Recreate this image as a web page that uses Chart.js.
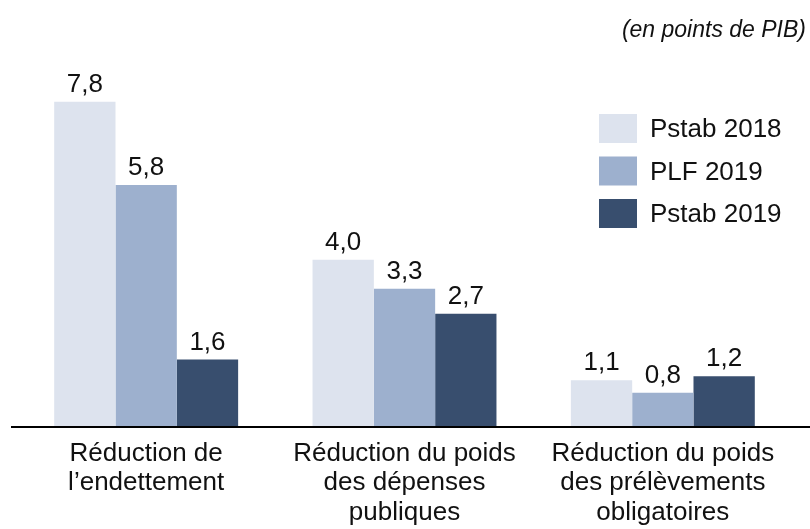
<!DOCTYPE html>
<html>
<head>
<meta charset="utf-8">
<script src="https://cdn.jsdelivr.net/npm/chart.js@4"></script>
<style>
  html, body { margin: 0; padding: 0; background: #fff; }
  #wrap { width: 810px; height: 529px; position: relative; }
</style>
</head>
<body>
<div id="wrap"><canvas id="myChart"></canvas></div>
<script>
const categories = [
  ['Réduction de', 'l\u2019endettement'],
  ['Réduction du poids', 'des dépenses', 'publiques'],
  ['Réduction du poids', 'des prélèvements', 'obligatoires']
];
const seriesNames = ['Pstab 2018', 'PLF 2019', 'Pstab 2019'];
const pstab2018 = [7.8, 4.0, 1.1];
const plf2019 = [5.8, 3.3, 0.8];
const pstab2019 = [1.6, 2.7, 1.2];
const colors = ['#dde3ee', '#9db0ce', '#384e6e'];
const unitNote = '(en points de PIB)';

const FONT = '"Liberation Sans", Arial, sans-serif';

// value labels above bars, french decimal comma
const valueLabels = {
  id: 'valueLabels',
  afterDatasetsDraw(chart) {
    const ctx = chart.ctx;
    ctx.save();
    ctx.font = '26px ' + FONT;
    ctx.fillStyle = '#111';
    ctx.textAlign = 'center';
    ctx.textBaseline = 'alphabetic';
    chart.data.datasets.forEach((ds, i) => {
      chart.getDatasetMeta(i).data.forEach((bar, j) => {
        ctx.fillText(ds.data[j].toFixed(1).replace('.', ','), bar.x, bar.y - 10);
      });
    });
    ctx.restore();
  }
};

// axis line, legend and unit note
const extras = {
  id: 'extras',
  afterDraw(chart) {
    const ctx = chart.ctx;
    const y0 = chart.scales.y.getPixelForValue(0);
    ctx.save();
    ctx.strokeStyle = '#000';
    ctx.lineWidth = 2;
    ctx.beginPath();
    ctx.moveTo(11, y0 + 1);
    ctx.lineTo(810, y0 + 1);
    ctx.stroke();

    ctx.font = '26px ' + FONT;
    ctx.textBaseline = 'middle';
    ctx.textAlign = 'left';
    chart.data.datasets.forEach((ds, i) => {
      const top = 114 + i * 42.5;
      ctx.fillStyle = ds.backgroundColor;
      ctx.fillRect(599, top, 38, 29);
      ctx.fillStyle = '#111';
      ctx.fillText(ds.label, 650, top + 16);
    });

    ctx.font = 'italic 23px ' + FONT;
    ctx.textAlign = 'right';
    ctx.fillStyle = '#111';
    ctx.fillText(unitNote, 806, 31);
    ctx.restore();
  }
};

const ctx = document.getElementById('myChart').getContext('2d');
const myChart = new Chart(ctx, {
  type: 'bar',
  data: {
    labels: categories,
    datasets: [
      { label: seriesNames[0], data: pstab2018, backgroundColor: colors[0] },
      { label: seriesNames[1], data: plf2019, backgroundColor: colors[1] },
      { label: seriesNames[2], data: pstab2019, backgroundColor: colors[2] }
    ]
  },
  options: {
    responsive: true,
    maintainAspectRatio: false,
    animation: false,
    layout: { padding: { left: 17, right: 18, top: 52, bottom: 0 } },
    datasets: { bar: { categoryPercentage: 0.712, barPercentage: 1.0 } },
    plugins: {
      legend: { display: false },
      tooltip: { enabled: false }
    },
    scales: {
      x: {
        grid: { display: false, drawTicks: false },
        border: { display: false },
        afterFit(scale) { scale.height = 103; },
        ticks: {
          color: '#111',
          font: { family: FONT, size: 26, lineHeight: 1.13 },
          padding: 13,
          maxRotation: 0,
          autoSkip: false
        }
      },
      y: {
        display: false,
        min: 0,
        max: 9
      }
    }
  },
  plugins: [valueLabels, extras]
});
</script>
</body>
</html>
